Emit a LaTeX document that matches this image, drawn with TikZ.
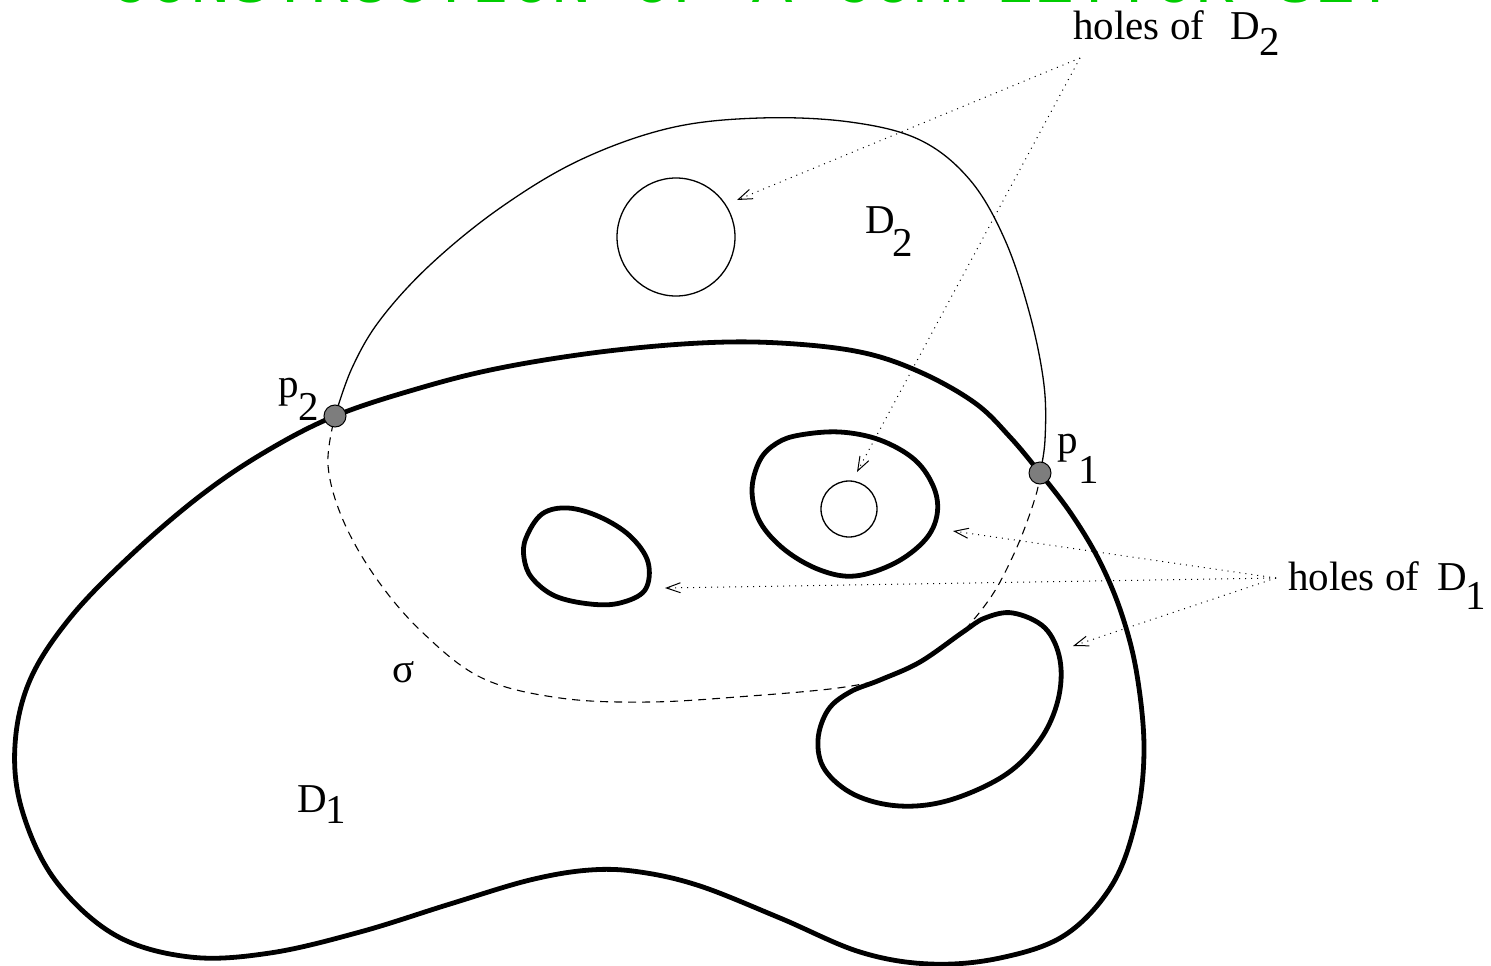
\documentclass[tikz,border=0pt]{standalone}
\usepackage{fontspec}
\setmainfont{Liberation Serif}
\newfontfamily\titlefont{Liberation Mono}
\usetikzlibrary{arrows.meta}
\definecolor{titlegreen}{RGB}{0,205,0}
\definecolor{ptgray}{RGB}{125,125,125}
\tikzset{
  thickline/.style={line width=4.8pt, line join=round},
  thinline/.style={line width=1.3pt},
  sigmaline/.style={line width=1.1pt, dash pattern=on 8pt off 6pt},
  dotarrow/.style={line width=1pt, dash pattern=on 1pt off 5pt,
    -{Straight Barb[length=14pt,width=10pt,line width=1pt]}},
  lbl/.style={font=\fontsize{41}{47}\selectfont, inner sep=0pt, anchor=base west},
  ptdot/.style={circle, draw=black, fill=ptgray, line width=1pt, minimum size=22pt, inner sep=0pt}
}
\begin{document}
\begin{tikzpicture}[x=1pt,y=-1pt]
\clip (0,0) rectangle (1491,966);
\fill[white] (0,0) rectangle (1491,966);

% title (cut off at top)
\node[anchor=base, text=titlegreen, font=\titlefont\fontsize{67}{70}\selectfont, inner sep=0pt] (title) at (753,3) {CONSTRUCTION OF A COMPLETTOR SET};

% D1 outer boundary
\draw[thickline] plot[smooth cycle, tension=0.6] coordinates {
  (335,416) (420,388) (500,368) (600,352) (700,343) (780,343) (860,352)
  (920,372) (975,403) (1010,437) (1040,473) (1072,515) (1100,562) (1122,615)
  (1137,675) (1144,750) (1136,820) (1112,885) (1065,935) (1000,958) (930,964)
  (860,952) (780,918) (700,886) (640,872) (590,870) (530,880) (450,904)
  (360,932) (270,953) (190,957) (115,935) (55,880) (22,810) (15,745) (30,680)
  (70,618) (130,556) (200,496) (265,452)};

% holes of D1
\draw[thickline] plot[smooth cycle, tension=0.6] coordinates {
  (526,538) (542,514) (568,508) (600,517) (630,536) (648,562) (645,590)
  (620,603) (590,604) (555,596) (532,578) (524,558)};
\draw[thickline] plot[smooth cycle, tension=0.6] coordinates {
  (800,435) (840,432) (880,440) (915,460) (934,488) (937,515) (925,540)
  (895,563) (855,576) (820,570) (785,550) (760,522) (752,490) (760,460) (777,443)};
\draw[thickline] plot[smooth cycle, tension=0.6] coordinates {
  (1013,613) (1045,628) (1060,660) (1058,700) (1040,740) (1005,775) (950,800)
  (900,806) (855,795) (825,770) (818,740) (828,710) (850,692) (880,680)
  (920,662) (963,632) (985,618)};

% holes of D2
\draw[thinline] (676,237) circle[radius=59];
\draw[thinline] (849,509) circle[radius=28];

% D2 boundary (solid part)
\draw[thinline] plot[smooth, tension=0.6] coordinates {
  (335,416) (352,368) (380,320) (430,265) (500,208) (580,160) (670,128)
  (760,118) (850,122) (920,140) (970,180) (1005,240) (1030,315) (1044,385)
  (1045,440) (1040,473)};

% sigma (dashed)
\draw[sigmaline] plot[smooth, tension=0.6] coordinates {
  (1040,473) (1036,495) (1020,540) (1000,582) (983,608) (963,632)};
\draw[sigmaline] plot[smooth, tension=0.6] coordinates {
  (873,682) (830,689) (750,696) (650,702) (560,698) (482,678) (422,632)
  (376,578) (343,520) (328,465) (335,416)};

% points
\coordinate (p2c) at (335,416);
\coordinate (p1c) at (1040,473);
\node[ptdot] (p2) at (p2c) {};
\node[ptdot] (p1) at (p1c) {};

% labels
\node[lbl] (lp2) at (278,397) {p};
\node[lbl] (lp2s) at (298,420) {2};
\node[lbl] (lp1) at (1057,453) {p};
\node[lbl] (lp1s) at (1078,483) {1};
\node[lbl] (lD2) at (865,233) {D};
\node[lbl] (lD2s) at (892,256) {2};
\node[lbl] (lD1) at (297,812) {D};
\node[lbl] (lD1s) at (325,823) {1};
\node[lbl] (lsig) at (392,682) {σ};
\node[lbl] (hD2) at (1073,40) {holes of};
\node[lbl] (hD2D) at (1230,40) {D};
\node[lbl] (hD2s) at (1259,56) {2};
\node[lbl] (hD1) at (1288,590) {holes of};
\node[lbl] (hD1D) at (1437,590) {D};
\node[lbl] (hD1s) at (1465,609) {1};

% dotted arrows
\coordinate (oD2) at (1080,58);
\coordinate (oD1) at (1276,578);
\coordinate (tbig) at (737,200);
\coordinate (tsmall) at (857,472);
\coordinate (toval) at (953,531);
\coordinate (tblob) at (665,588);
\coordinate (tkid) at (1073,646);
\draw[dotarrow] (oD2) -- (tbig);
\draw[dotarrow] (oD2) -- (tsmall);
\draw[dotarrow] (oD1) -- (toval);
\draw[dotarrow] (oD1) -- (tblob);
\draw[dotarrow] (oD1) -- (tkid);
\end{tikzpicture}
\end{document}
